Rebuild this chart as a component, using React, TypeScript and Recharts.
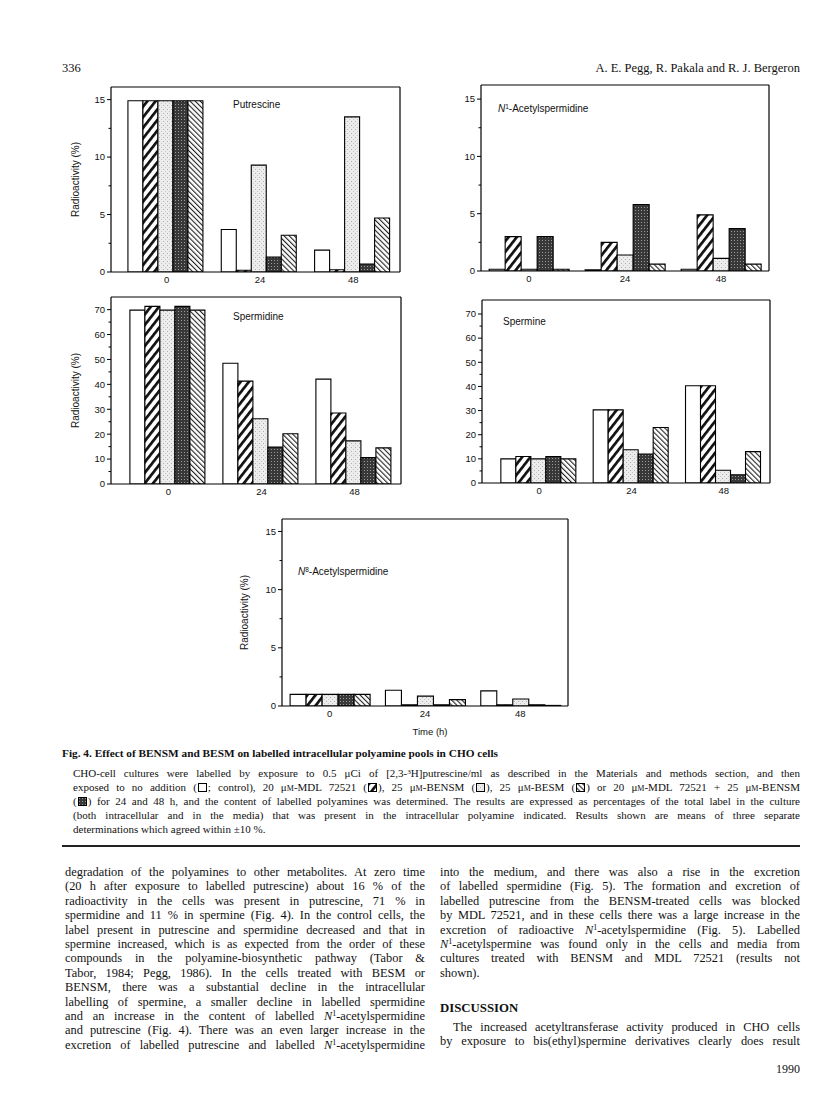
import React from "react";
import { BarChart, Bar, XAxis, YAxis, Label } from "recharts";

const times = ["0", "24", "48"];

// one row per time point; columns: control, MDL 72521, BENSM, MDL 72521 + BENSM, BESM
const putrescine = [
  [14.9, 14.9, 14.9, 14.9, 14.9],
  [3.7, 0.15, 9.3, 1.3, 3.2],
  [1.9, 0.2, 13.5, 0.7, 4.7],
];
const acetylspermidineN1 = [
  [0.15, 3.0, 0.15, 3.0, 0.15],
  [0.1, 2.5, 1.4, 5.8, 0.6],
  [0.15, 4.9, 1.1, 3.7, 0.6],
];
const spermidine = [
  [69.8, 71.3, 69.8, 71.3, 69.8],
  [48.5, 41.3, 26.2, 14.8, 20.2],
  [42.1, 28.5, 17.3, 10.6, 14.5],
];
const spermine = [
  [10, 11, 10, 11, 10],
  [30.3, 30.3, 13.8, 12, 23],
  [40.3, 40.3, 5.3, 3.4, 13],
];
const acetylspermidineN8 = [
  [1, 1, 1, 1, 1],
  [1.35, 0.1, 0.85, 0.1, 0.55],
  [1.3, 0.1, 0.6, 0.1, 0.05],
];

const lowTicks = [0, 5, 10, 15];
const lowMinor = [2.5, 7.5, 12.5];
const highTicks = [0, 10, 20, 30, 40, 50, 60, 70];
const highMinor = [5, 15, 25, 35, 45, 55, 65];

const series = [
  { key: "control", fill: "#fff" },
  { key: "mdl", fill: "url(#pat-mdl)" },
  { key: "bensm", fill: "url(#pat-bensm)" },
  { key: "both", fill: "url(#pat-both)" },
  { key: "besm", fill: "url(#pat-besm)" },
];

const serif = '"Liberation Serif", "Times New Roman", serif';
const sans = '"Liberation Sans", Arial, sans-serif';
const ink = "#111";

function Patterns() {
  return (
    <svg width={0} height={0} style={{ position: "absolute" }}>
      <defs>
        <pattern id="pat-mdl" patternUnits="userSpaceOnUse" width={6.5} height={6.5} patternTransform="rotate(38)">
          <rect width={6.5} height={6.5} fill="#fff" />
          <rect x={0} y={0} width={2.7} height={6.5} fill="#111" />
        </pattern>
        <pattern id="pat-besm" patternUnits="userSpaceOnUse" width={3.6} height={3.6} patternTransform="rotate(-45)">
          <rect width={3.6} height={3.6} fill="#fff" />
          <rect x={0} y={0} width={1.1} height={3.6} fill="#222" />
        </pattern>
        <pattern id="pat-bensm" patternUnits="userSpaceOnUse" width={4} height={4}>
          <rect width={4} height={4} fill="#ececec" />
          <rect x={0} y={0} width={1} height={1} fill="#b0b0b0" />
          <rect x={2} y={2} width={1} height={1} fill="#c6c6c6" />
        </pattern>
        <pattern id="pat-both" patternUnits="userSpaceOnUse" width={3} height={3}>
          <rect width={3} height={3} fill="#383838" />
          <rect x={1} y={1} width={1} height={1} fill="#9a9a9a" />
        </pattern>
      </defs>
    </svg>
  );
}

const Y_TICK = 4;
const Y_MARGIN = 2;

// draws the tick line itself so minor ticks can be shorter and unlabelled
function YTick(props: any) {
  const { x, y, payload, majors } = props;
  const axisX = x + Y_TICK + Y_MARGIN;
  const major = majors.includes(payload.value);
  return (
    <g>
      <line x1={axisX} x2={axisX - (major ? Y_TICK : 2.5)} y1={y} y2={y} stroke="#000" strokeWidth={1} />
      {major && (
        <text x={x} y={y} dy="0.35em" textAnchor="end" fontSize={9.5} fill={ink} fontFamily={sans}>
          {payload.value}
        </text>
      )}
    </g>
  );
}

type PanelProps = {
  rows: number[][];
  x0: number;
  y0: number;
  w: number;
  h: number;
  yMax: number;
  ticks: number[];
  minor: number[];
  padLeft: number;
  yLabelOffset?: number;
  timeLabel?: boolean;
};

function Panel(p: PanelProps) {
  const data = times.map((t, i) => {
    const row: Record<string, number | string> = { time: t };
    series.forEach((s, j) => {
      row[s.key] = p.rows[i][j];
    });
    return row;
  });
  const allTicks = [...p.ticks, ...p.minor].sort((a, b) => a - b);
  const axisW = 60;
  const top = 1;
  const right = 3;
  const xH = 34;
  const line = { stroke: "#000", strokeWidth: 1.2 };
  const tickFont = { fontSize: 9.5, fill: ink, fontFamily: sans };
  return (
    <div style={{ position: "absolute", left: p.x0 - axisW, top: p.y0 - top - 1 }}>
      <BarChart
        width={p.w + axisW + 1 + right}
        height={p.h + top + 1 + xH}
        data={data}
        margin={{ top, right, left: 0, bottom: 0 }}
        barGap={0}
        barCategoryGap="8.5%"
      >
        <XAxis
          dataKey="time"
          height={xH}
          interval={0}
          padding={{ left: p.padLeft, right: 0 }}
          axisLine={line}
          tickLine={false}
          tickSize={2}
          tickMargin={2}
          tick={tickFont}
        >
          {p.timeLabel && <Label value="Time (h)" position="insideBottom" offset={5} dx={5} style={tickFont} />}
        </XAxis>
        <XAxis xAxisId="top" orientation="top" dataKey="time" height={1} tick={false} tickLine={false} axisLine={line} />
        <YAxis
          type="number"
          domain={[0, p.yMax]}
          ticks={allTicks}
          interval={0}
          allowDataOverflow
          width={axisW}
          axisLine={line}
          tickLine={false}
          tickSize={Y_TICK}
          tickMargin={Y_MARGIN}
          tick={<YTick majors={p.ticks} />}
        >
          {p.yLabelOffset !== undefined && (
            <Label
              value="Radioactivity (%)"
              angle={-90}
              position="insideLeft"
              offset={p.yLabelOffset}
              style={{ textAnchor: "middle", fontSize: 10, fill: ink, fontFamily: sans }}
            />
          )}
        </YAxis>
        <YAxis
          yAxisId="right"
          orientation="right"
          type="number"
          domain={[0, p.yMax]}
          width={1}
          tick={false}
          tickLine={false}
          axisLine={line}
        />
        {series.map((s) => (
          <Bar key={s.key} dataKey={s.key} fill={s.fill} stroke="#000" strokeWidth={1.1} isAnimationActive={false} />
        ))}
      </BarChart>
    </div>
  );
}

function Title({ x, y, children }: { x: number; y: number; children: React.ReactNode }) {
  return (
    <div style={{ position: "absolute", left: x, top: y - 7, fontFamily: sans, fontSize: 10, lineHeight: "14px", color: ink, whiteSpace: "nowrap" }}>
      {children}
    </div>
  );
}

type LineProps = {
  x: number;
  y: number;
  w: number;
  size: number;
  last?: boolean;
  bold?: boolean;
  indent?: number;
  right?: boolean;
  children: React.ReactNode;
};

function Line(p: LineProps) {
  const align = p.right ? "right" : p.last ? "left" : "justify";
  return (
    <div
      style={{
        position: "absolute",
        left: p.x,
        top: p.y - 7,
        width: p.w,
        paddingLeft: p.indent || 0,
        boxSizing: "border-box",
        fontFamily: serif,
        fontSize: p.size,
        lineHeight: "14px",
        fontWeight: p.bold ? "bold" : "normal",
        color: ink,
        textAlign: align,
        textAlignLast: align,
      }}
    >
      {p.children}
    </div>
  );
}

function Key({ fill }: { fill: string }) {
  return (
    <svg width={9} height={9} style={{ verticalAlign: "-1px", margin: "0 1px" }}>
      <rect x={0.5} y={0.5} width={8} height={8} fill={fill} stroke="#000" strokeWidth={1} />
    </svg>
  );
}

const sup = { fontSize: "0.65em", lineHeight: 0, verticalAlign: "0.45em" } as const;
const uM = (
  <>
    μ<span style={{ fontVariant: "small-caps" }}>m</span>
  </>
);
const N1 = (
  <>
    <i>N</i>
    <span style={sup}>1</span>
  </>
);

const bodySize = 12.4;
const capSize = 11;
const lineStep = 14.4;
const leftLines = [
  "degradation of the polyamines to other metabolites. At zero time",
  "(20 h after exposure to labelled putrescine) about 16 % of the",
  "radioactivity in the cells was present in putrescine, 71 % in",
  "spermidine and 11 % in spermine (Fig. 4). In the control cells, the",
  "label present in putrescine and spermidine decreased and that in",
  "spermine increased, which is as expected from the order of these",
  "compounds in the polyamine-biosynthetic pathway (Tabor &",
  "Tabor, 1984; Pegg, 1986). In the cells treated with BESM or",
  "BENSM, there was a substantial decline in the intracellular",
  "labelling of spermine, a smaller decline in labelled spermidine",
];

export default function App() {
  return (
    <div style={{ position: "absolute", left: 0, top: 0, width: 816, height: 1093, background: "#fff", overflow: "hidden" }}>
      <Patterns />

      <Line x={62} y={68} w={100} size={12.5} last>
        336
      </Line>
      <Line x={450} y={68} w={350} size={12.5} right>
        A. E. Pegg, R. Pakala and R. J. Bergeron
      </Line>

      <Panel rows={putrescine} x0={111} y0={87} w={289} h={185} yMax={16.1} ticks={lowTicks} minor={lowMinor} padLeft={9} yLabelOffset={24} />
      <Title x={233} y={105}>Putrescine</Title>

      <Panel rows={acetylspermidineN1} x0={481} y0={85} w={288} h={186} yMax={16.23} ticks={lowTicks} minor={lowMinor} padLeft={0} />
      <Title x={498} y={109}>
        <i>N</i>
        <span style={sup}>1</span>-Acetylspermidine
      </Title>

      <Panel rows={spermidine} x0={111} y0={297} w={290} h={187} yMax={75.07} ticks={highTicks} minor={highMinor} padLeft={11} yLabelOffset={24} />
      <Title x={233} y={317}>Spermidine</Title>

      <Panel rows={spermine} x0={482} y0={300} w={288} h={183} yMax={75.8} ticks={highTicks} minor={highMinor} padLeft={11} />
      <Title x={503} y={322}>Spermine</Title>

      <Panel rows={acetylspermidineN8} x0={282} y0={519} w={286} h={187} yMax={16.07} ticks={lowTicks} minor={lowMinor} padLeft={0} yLabelOffset={22} timeLabel />
      <Title x={298} y={572}>
        <i>N</i>
        <span style={sup}>8</span>-Acetylspermidine
      </Title>

      <Line x={62} y={753} w={738} size={capSize + 0.3} bold last>
        Fig. 4. Effect of BENSM and BESM on labelled intracellular polyamine pools in CHO cells
      </Line>
      <Line x={73} y={773} w={727} size={capSize}>
        CHO-cell cultures were labelled by exposure to 0.5 μCi of [2,3-<span style={sup}>3</span>H]putrescine/ml as described in the Materials and methods section, and then
      </Line>
      <Line x={73} y={787} w={727} size={capSize}>
        exposed to no addition (<Key fill="#fff" />; control), 20 {uM}-MDL 72521 (<Key fill="url(#pat-mdl)" />), 25 {uM}-BENSM (<Key fill="url(#pat-bensm)" />), 25 {uM}-BESM (<Key fill="url(#pat-besm)" />) or 20 {uM}-MDL 72521 + 25 {uM}-BENSM
      </Line>
      <Line x={73} y={801} w={727} size={capSize}>
        (<Key fill="url(#pat-both)" />) for 24 and 48 h, and the content of labelled polyamines was determined. The results are expressed as percentages of the total label in the culture
      </Line>
      <Line x={73} y={815} w={727} size={capSize}>
        (both intracellular and in the media) that was present in the intracellular polyamine indicated. Results shown are means of three separate
      </Line>
      <Line x={73} y={829} w={727} size={capSize} last>
        determinations which agreed within ±10 %.
      </Line>
      <div style={{ position: "absolute", left: 62, top: 845, width: 738, height: 1.5, background: "#222" }} />

      {leftLines.map((t, i) => (
        <Line key={i} x={65} y={872 + i * lineStep} w={360} size={bodySize}>
          {t}
        </Line>
      ))}
      <Line x={65} y={872 + 10 * lineStep} w={360} size={bodySize}>
        and an increase in the content of labelled {N1}-acetylspermidine
      </Line>
      <Line x={65} y={872 + 11 * lineStep} w={360} size={bodySize}>
        and putrescine (Fig. 4). There was an even larger increase in the
      </Line>
      <Line x={65} y={872 + 12 * lineStep} w={360} size={bodySize}>
        excretion of labelled putrescine and labelled {N1}-acetylspermidine
      </Line>

      <Line x={440} y={872} w={360} size={bodySize}>
        into the medium, and there was also a rise in the excretion
      </Line>
      <Line x={440} y={872 + lineStep} w={360} size={bodySize}>
        of labelled spermidine (Fig. 5). The formation and excretion of
      </Line>
      <Line x={440} y={872 + 2 * lineStep} w={360} size={bodySize}>
        labelled putrescine from the BENSM-treated cells was blocked
      </Line>
      <Line x={440} y={872 + 3 * lineStep} w={360} size={bodySize}>
        by MDL 72521, and in these cells there was a large increase in the
      </Line>
      <Line x={440} y={872 + 4 * lineStep} w={360} size={bodySize}>
        excretion of radioactive {N1}-acetylspermidine (Fig. 5). Labelled
      </Line>
      <Line x={440} y={872 + 5 * lineStep} w={360} size={bodySize}>
        {N1}-acetylspermine was found only in the cells and media from
      </Line>
      <Line x={440} y={872 + 6 * lineStep} w={360} size={bodySize}>
        cultures treated with BENSM and MDL 72521 (results not
      </Line>
      <Line x={440} y={872 + 7 * lineStep} w={360} size={bodySize} last>
        shown).
      </Line>
      <Line x={440} y={1008} w={360} size={bodySize + 0.4} bold last>
        DISCUSSION
      </Line>
      <Line x={440} y={1027} w={360} size={bodySize} indent={13}>
        The increased acetyltransferase activity produced in CHO cells
      </Line>
      <Line x={440} y={1041} w={360} size={bodySize}>
        by exposure to bis(ethyl)spermine derivatives clearly does result
      </Line>
      <Line x={700} y={1069} w={100} size={12} right>
        1990
      </Line>
    </div>
  );
}
